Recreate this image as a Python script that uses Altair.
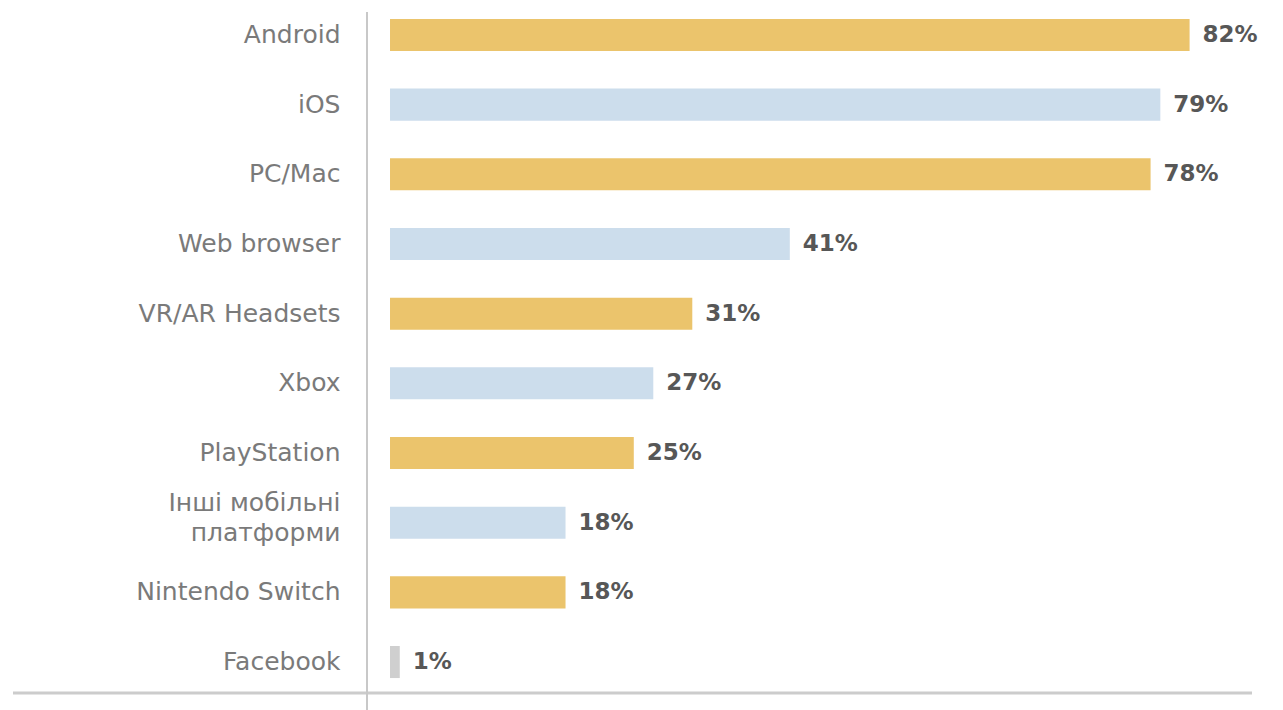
import altair as alt
import pandas as pd

categories = ["Android", "iOS", "PC/Mac", "Web browser", "VR/AR Headsets", "Xbox",
              "PlayStation", "Інші мобільні\nплатформи", "Nintendo Switch", "Facebook"]
values = [82, 79, 78, 41, 31, 27, 25, 18, 18, 1]
kinds = ["gold", "blue", "gold", "blue", "gold", "blue", "gold", "blue", "gold", "gray"]

df = pd.DataFrame({"platform": categories, "value": values, "kind": kinds})
df["label"] = df["value"].astype(str) + "%"

W, H = 885, 697

y_enc = alt.Y("platform:N", sort=categories,
              scale=alt.Scale(paddingInner=0.54, paddingOuter=0.272),
              axis=alt.Axis(title=None, domain=False, ticks=False, labelPadding=27,
                            labelFontSize=25, labelFont="DejaVu Sans", labelColor="#7a7a7a",
                            labelLimit=400, labelLineHeight=30,
                            labelOffset={"condition": {"test": "indexof(datum.value, '\\n') >= 0",
                                                       "value": -20},
                                         "value": 0},
                            labelExpr="split(datum.label, '\\n')"))
x_scale = alt.Scale(domain=[-2.36, 88.4], nice=False, zero=False)

base = alt.Chart(df)

bars = base.mark_bar().encode(
    x=alt.X("value:Q", scale=x_scale, axis=None),
    x2=alt.datum(0),
    y=y_enc,
    color=alt.Color("kind:N", legend=None,
                    scale=alt.Scale(domain=["gold", "blue", "gray"],
                                    range=["#EBC46C", "#CCDDEC", "#CFCFCF"])),
)

texts = base.mark_text(align="left", baseline="middle", dx=13, font="DejaVu Sans",
                       fontWeight="bold", fontSize=23, color="#575757").encode(
    x=alt.X("value:Q", scale=x_scale, axis=None),
    y=alt.Y("platform:N", sort=categories),
    text="label:N",
)

one = alt.Data(values=[{"a": 1}])
vline = alt.Chart(one).mark_rule(color="#c8c8c8", strokeWidth=2).encode(
    x=alt.value(0), y=alt.value(12), y2=alt.value(710))
hline = alt.Chart(one).mark_rule(color="#cccccc", strokeWidth=3).encode(
    x=alt.value(-354), x2=alt.value(885), y=alt.value(693))

chart = alt.layer(bars, texts, hline, vline).properties(
    width=W, height=H,
    autosize=alt.AutoSizeParams(type="none"),
    padding={"left": 367, "top": 0, "right": 31, "bottom": 13},
    background="white",
).configure_view(stroke=None)

chart.save("out.html", embed_options={"renderer": "svg", "actions": False})
